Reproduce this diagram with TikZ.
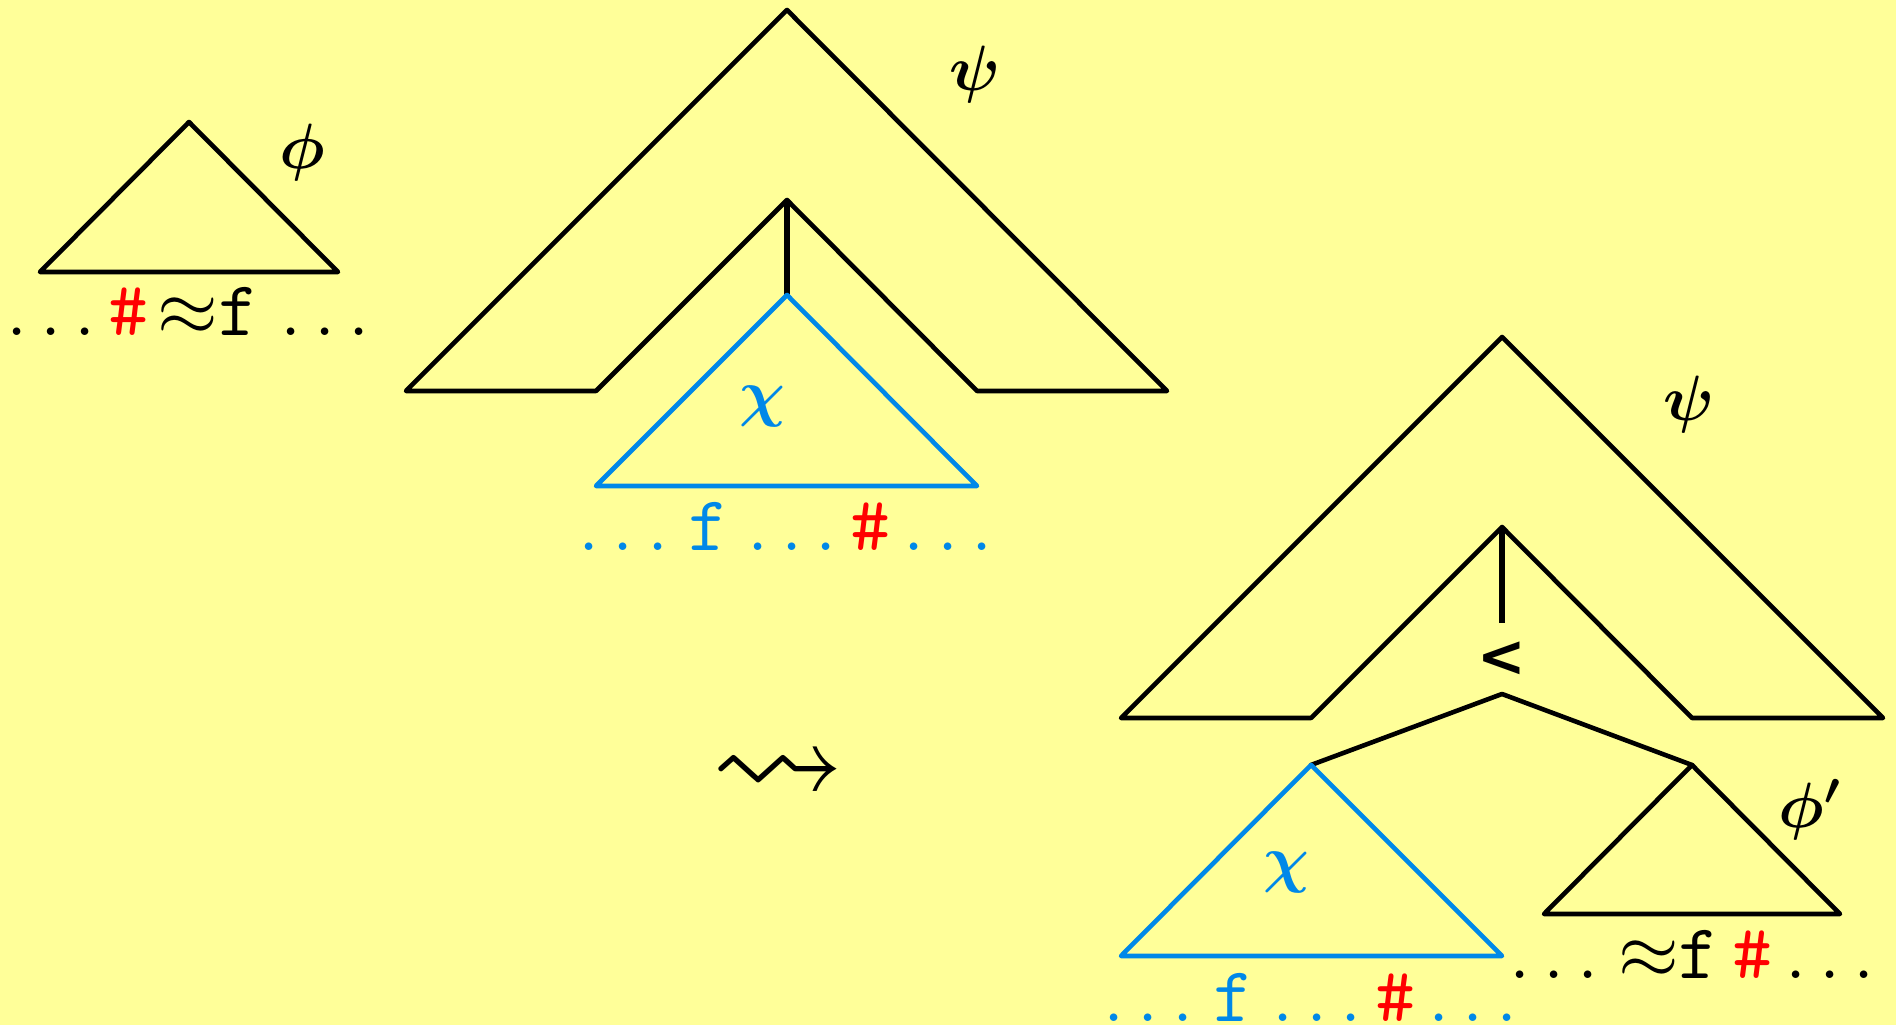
\RequirePackage{fix-cm}
\documentclass[tikz,border=0pt]{standalone}
\usepackage{amsmath,amssymb}
\usepackage{fontspec}
\newfontfamily\ltfont{DejaVu Sans}
\definecolor{bgyellow}{RGB}{255,255,153}
\definecolor{chiblue}{RGB}{0,136,232}
\definecolor{hashred}{RGB}{255,0,0}
\newcommand{\hsh}{{\color{hashred}\texttt{\#}}}
\begin{document}
\begin{tikzpicture}[x=0.25pt,y=-0.25pt,
  ln/.style={line width=1.15pt, line join=round, line cap=round},
  tree/.style={ln, draw=black},
  stem/.style={line width=1.6pt, draw=black},
  sub/.style={ln, draw=chiblue},
  lbl/.style={inner sep=0pt, font=\fontsize{16}{19}\selectfont},
  str/.style={inner sep=0pt, anchor=base, font=\fontsize{19.5}{23}\selectfont}]
\fill[bgyellow] (0,0) rectangle (1896,1025);
\useasboundingbox (0,0) rectangle (1896,1025);

% ---- left: phi triangle
\coordinate (phiA) at (189,122);
\coordinate (phiL) at (40,272);
\coordinate (phiR) at (338,272);
\draw[tree] (phiA) -- (phiL) -- (phiR) -- cycle;
\node[lbl] (phiLab) at (302,153) {$\boldsymbol{\phi}$};
\node[str] (phiStr) at (188,336) {$\ldots\hsh\mskip2mu{\approx}\texttt{f}\mskip2mu\ldots$};

% ---- middle: psi with hole, chi below
\coordinate (psA) at (787,10);
\coordinate (psOL) at (406,391);
\coordinate (psIL) at (596,391);
\coordinate (psI) at (787,200);
\coordinate (psIR) at (977,391);
\coordinate (psOR) at (1167,391);
\coordinate (chA) at (787,295);
\coordinate (chL) at (596,486);
\coordinate (chR) at (977,486);
\draw[tree] (psIL) -- (psOL) -- (psA) -- (psOR) -- (psIR) -- (psI) -- cycle;
\draw[stem] (psI) -- (chA);
\draw[sub] (chA) -- (chL) -- (chR) -- cycle;
\node[lbl] (psiLab) at (975,75) {$\boldsymbol{\psi}$};
\node[lbl, text=chiblue] (chiLab) at (762,407) {$\boldsymbol{\chi}$};
\node[str, text=chiblue] (chiStr) at (786,551) {$\ldots\mskip1.5mu\texttt{f}\mskip1.5mu\ldots\hsh\ldots$};

% ---- leadsto
\node[inner sep=0pt, font=\fontsize{24.88}{30}\selectfont, scale=1.34] (arr) at (778,777) {$\leadsto$};

% ---- right: psi with < node, chi and phi'
\coordinate (qsA) at (1502,337);
\coordinate (qsOL) at (1121,718);
\coordinate (qsIL) at (1311,718);
\coordinate (qsI) at (1502,527);
\coordinate (qsIR) at (1692,718);
\coordinate (qsOR) at (1883,718);
\coordinate (stemEnd) at (1502,623);
\coordinate (br) at (1502,694);
\coordinate (chA2) at (1311,765);
\coordinate (chL2) at (1121,956);
\coordinate (chR2) at (1502,956);
\coordinate (phA2) at (1692,765);
\coordinate (phL2) at (1544,914);
\coordinate (phR2) at (1840,914);
\draw[tree] (qsIL) -- (qsOL) -- (qsA) -- (qsOR) -- (qsIR) -- (qsI) -- cycle;
\draw[stem] (qsI) -- (stemEnd);
\node[inner sep=0pt, font=\fontsize{14.5}{17}\selectfont\ltfont\bfseries] (lt) at (1502,659) {<};
\draw[tree] (chA2) -- (br) -- (phA2);
\draw[sub] (chA2) -- (chL2) -- (chR2) -- cycle;
\draw[tree] (phA2) -- (phL2) -- (phR2) -- cycle;
\node[lbl] (psiLab2) at (1689,405) {$\boldsymbol{\psi}$};
\node[lbl, text=chiblue] (chiLab2) at (1286,873) {$\boldsymbol{\chi}$};
\node[lbl] (phiLab2) at (1810,810) {$\boldsymbol{\phi'}$};
\node[str, text=chiblue] (chiStr2) at (1311,1021) {$\ldots\mskip1.5mu\texttt{f}\mskip1.5mu\ldots\hsh\ldots$};
\node[str] (phiStr2) at (1692,979) {$\ldots\mskip1.5mu{\approx}\texttt{f}\,\hsh\ldots$};
\end{tikzpicture}
\end{document}
